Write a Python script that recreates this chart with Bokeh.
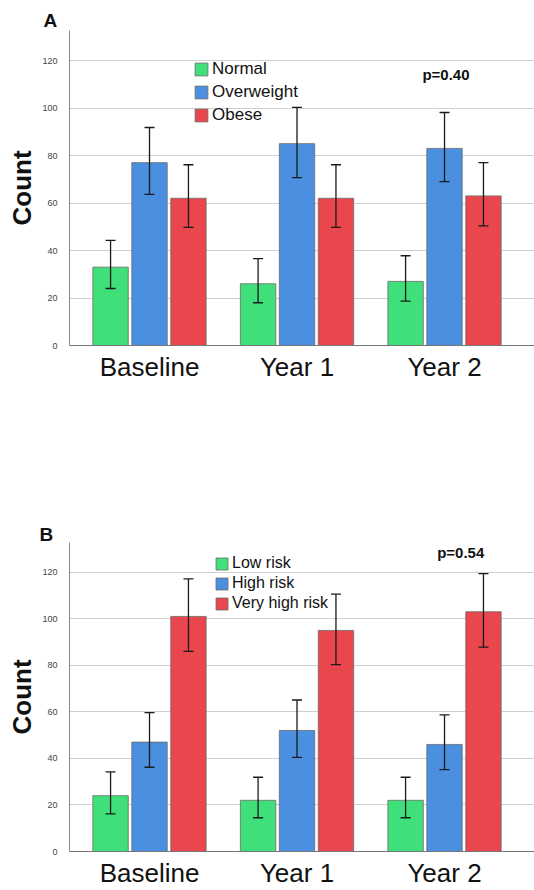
import numpy as np
from bokeh.plotting import figure
from bokeh.layouts import column
from bokeh.models import (ColumnDataSource, Whisker, TeeHead, FixedTicker, Legend,
                          LegendItem, Label, Range1d)
from bokeh.embed import file_html
from bokeh.resources import INLINE

# ---------------- data ----------------
categories = ["Baseline", "Year 1", "Year 2"]
y_ticks = [0, 20, 40, 60, 80, 100, 120]

# Panel A: BMI categories
a_series = ["Normal", "Overweight", "Obese"]
a_normal = [33, 26, 27]
a_normal_lo = [24, 18, 18.7]
a_normal_hi = [44.3, 36.6, 37.8]
a_overweight = [77, 85, 83]
a_overweight_lo = [63.6, 70.7, 69]
a_overweight_hi = [91.8, 100.3, 98.1]
a_obese = [62, 62, 63]
a_obese_lo = [49.7, 49.7, 50.4]
a_obese_hi = [76.1, 76.1, 77]
a_pvalue = "p=0.40"

# Panel B: risk categories
b_series = ["Low risk", "High risk", "Very high risk"]
b_low = [24, 22, 22]
b_low_lo = [16.2, 14.5, 14.5]
b_low_hi = [34.2, 31.9, 31.9]
b_high = [47, 52, 46]
b_high_lo = [36.2, 40.4, 35.2]
b_high_hi = [59.7, 65.1, 58.7]
b_vhigh = [101, 95, 103]
b_vhigh_lo = [86, 80.3, 87.8]
b_vhigh_hi = [117.1, 110.6, 119.4]
b_pvalue = "p=0.54"

COLORS = ["#3fe07a", "#4b8fe0", "#e9474d"]
FONT = "Liberation Sans"
OFFSETS = [-0.264, 0.0, 0.264]
BAR_W = 0.24


def make_panel(letter, series_names, values, lows, highs, pvalue, p_xy,
               height, border_top, frame_h, y_end, legend_loc, glyph, spacing,
               legend_font, letter_offset, letter_standoff):
    x = np.arange(len(categories))
    p = figure(width=534, height=height, output_backend="svg", toolbar_location=None,
               x_range=Range1d(-0.5424, 2.610), y_range=Range1d(0, y_end),
               min_border_left=69, min_border_right=0, min_border_top=border_top,
               min_border_bottom=height - border_top - frame_h,
               title=letter)
    p.outline_line_color = None
    p.background_fill_color = "white"

    p.title.text_font = FONT
    p.title.text_font_size = "19px"
    p.title.text_font_style = "bold"
    p.title.text_color = "#111111"
    p.title.align = "left"
    p.title.offset = letter_offset
    p.title.standoff = letter_standoff

    renderers = []
    for i, name in enumerate(series_names):
        src = ColumnDataSource(dict(x=x + OFFSETS[i], top=values[i],
                                    lo=lows[i], hi=highs[i]))
        r = p.vbar(x="x", top="top", width=BAR_W, source=src,
                   fill_color=COLORS[i], line_color="#6a6a6a", line_width=0.8)
        renderers.append(r)
        w = Whisker(base="x", lower="lo", upper="hi", source=src, level="overlay",
                    line_color="#1a1a1a", line_width=1.3,
                    upper_head=TeeHead(size=10, line_color="#1a1a1a", line_width=1.3),
                    lower_head=TeeHead(size=10, line_color="#1a1a1a", line_width=1.3))
        p.add_layout(w)

    # axes
    p.xaxis.ticker = FixedTicker(ticks=list(x))
    p.xaxis.major_label_overrides = {int(i): c for i, c in zip(x, categories)}
    p.xaxis.major_label_text_font = FONT
    p.xaxis.major_label_text_font_size = "26px"
    p.xaxis.major_label_text_color = "#111111"
    p.xaxis.major_label_standoff = 0
    p.xaxis.major_tick_line_color = None
    p.xaxis.minor_tick_line_color = None
    p.xaxis.axis_line_color = "#777777"

    p.yaxis.ticker = FixedTicker(ticks=y_ticks)
    p.yaxis.major_label_text_font = FONT
    p.yaxis.major_label_text_font_size = "9px"
    p.yaxis.major_label_text_color = "#444444"
    p.yaxis.major_label_standoff = 6
    p.yaxis.major_tick_line_color = None
    p.yaxis.minor_tick_line_color = None
    p.yaxis.axis_line_color = "#888888"
    p.yaxis.axis_label = "Count"
    p.yaxis.axis_label_text_font = FONT
    p.yaxis.axis_label_text_font_style = "bold"
    p.yaxis.axis_label_text_font_size = "26px"
    p.yaxis.axis_label_text_color = "#111111"
    p.yaxis.axis_label_standoff = 2

    p.xgrid.grid_line_color = None
    p.ygrid.grid_line_color = "#cfcfcf"
    p.ygrid.grid_line_width = 1.2

    legend = Legend(items=[LegendItem(label=n, renderers=[r])
                           for n, r in zip(series_names, renderers)],
                    location=legend_loc, orientation="vertical",
                    glyph_width=glyph, glyph_height=glyph, label_height=glyph,
                    spacing=spacing, padding=0, margin=0, label_standoff=3,
                    label_text_font=FONT, label_text_font_size=legend_font,
                    label_text_color="#111111", label_text_baseline="middle",
                    border_line_color=None, background_fill_alpha=0)
    p.add_layout(legend)

    p.add_layout(Label(x=p_xy[0], y=p_xy[1], text=pvalue, text_font=FONT,
                       text_font_size="15px", text_font_style="bold",
                       text_align="center", text_baseline="middle",
                       text_color="#111111"))
    return p


pa = make_panel("A", a_series, [a_normal, a_overweight, a_obese],
                [a_normal_lo, a_overweight_lo, a_obese_lo],
                [a_normal_hi, a_overweight_hi, a_obese_hi],
                a_pvalue, (2.01, 114.3),
                height=430, border_top=30, frame_h=315, y_end=315 / 2.375,
                legend_loc=(124, 220), glyph=16, spacing=3, legend_font="17px",
                letter_offset=-26, letter_standoff=-1)

pb = make_panel("B", b_series, [b_low, b_high, b_vhigh],
                [b_low_lo, b_high_lo, b_vhigh_lo],
                [b_low_hi, b_high_hi, b_vhigh_hi],
                b_pvalue, (2.11, 128.4),
                height=460, border_top=112, frame_h=312, y_end=312 / 2.35,
                legend_loc=(145, 239), glyph=15, spacing=2, legend_font="16px",
                letter_offset=-30, letter_standoff=-5)

layout = column(pa, pb, spacing=0)
open("out.html", "w").write(file_html(layout, INLINE))
